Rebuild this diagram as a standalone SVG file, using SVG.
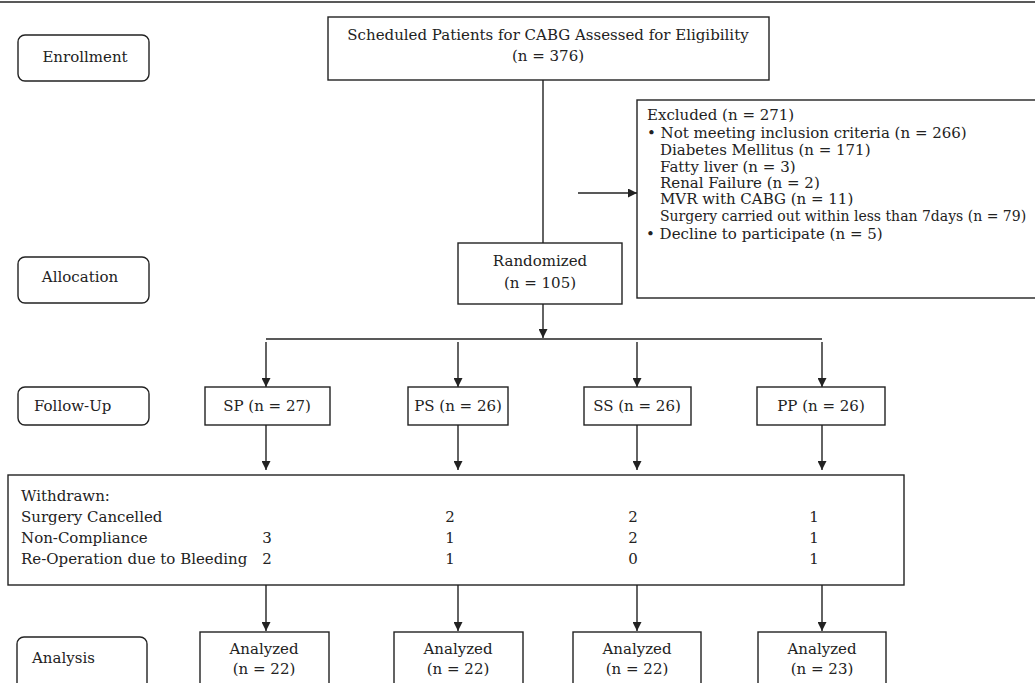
<svg xmlns="http://www.w3.org/2000/svg" width="1035" height="683" viewBox="0 0 1035 683">
<defs>
<marker id="ah" viewBox="0 0 10 10" refX="10" refY="5" markerWidth="9" markerHeight="9" markerUnits="userSpaceOnUse" orient="auto">
<path d="M0,0 L10,5 L0,10 z" fill="#222"/>
</marker>
<style>
.box{fill:#fff;stroke:#222;stroke-width:1.4}
.lbl{fill:#fff;stroke:#222;stroke-width:1.4}
.t{font-family:"DejaVu Serif","Liberation Serif",serif;font-size:15px;fill:#222}
.c{text-anchor:middle}
.ln{stroke:#222;stroke-width:1.4;fill:none}
.ar{stroke:#222;stroke-width:1.4;fill:none;marker-end:url(#ah)}
</style>
</defs>
<rect width="1035" height="683" fill="#fff"/>
<line x1="0" y1="2" x2="1035" y2="2" stroke="#222" stroke-width="1.6"/>

<g id="connectors">
<line class="ln" x1="543" y1="80" x2="543" y2="243"/>
<line class="ar" x1="578" y1="193" x2="637" y2="193"/>
<line class="ar" x1="543" y1="304" x2="543" y2="338"/>
<line class="ln" x1="266" y1="339" x2="822" y2="339"/>
<line class="ar" x1="266" y1="342" x2="266" y2="387"/>
<line class="ar" x1="458" y1="342" x2="458" y2="387"/>
<line class="ar" x1="637" y1="342" x2="637" y2="387"/>
<line class="ar" x1="822" y1="342" x2="822" y2="387"/>
<line class="ar" x1="266" y1="425" x2="266" y2="470"/>
<line class="ar" x1="458" y1="425" x2="458" y2="470"/>
<line class="ar" x1="637" y1="425" x2="637" y2="470"/>
<line class="ar" x1="822" y1="425" x2="822" y2="470"/>
<line class="ar" x1="266" y1="585" x2="266" y2="631"/>
<line class="ar" x1="458" y1="585" x2="458" y2="631"/>
<line class="ar" x1="637" y1="585" x2="637" y2="631"/>
<line class="ar" x1="822" y1="585" x2="822" y2="631"/>
</g>

<g id="enrollment">
<rect class="lbl" x="18" y="35" width="131" height="46" rx="7"/>
<text class="t c" x="85" y="62">Enrollment</text>
</g>
<g id="allocation">
<rect class="lbl" x="18" y="257" width="131" height="46" rx="7"/>
<text class="t c" x="80" y="282">Allocation</text>
</g>
<g id="followup">
<rect class="lbl" x="18" y="387" width="131" height="38" rx="7"/>
<text class="t" x="34" y="411">Follow-Up</text>
</g>
<g id="analysis">
<rect class="lbl" x="17" y="637" width="130" height="56" rx="7"/>
<text class="t" x="32" y="663">Analysis</text>
</g>

<g id="assessed">
<rect class="box" x="328" y="17" width="441" height="63"/>
<text class="t c" x="548" y="40">Scheduled Patients for CABG Assessed for Eligibility</text>
<text class="t c" x="548" y="61">(n = 376)</text>
</g>

<g id="excluded">
<rect class="box" x="637" y="100" width="410" height="198"/>
<text class="t" x="647" y="120">Excluded (n = 271)</text>
<text class="t" x="647" y="138">• Not meeting inclusion criteria (n = 266)</text>
<text class="t" x="660" y="155">Diabetes Mellitus (n = 171)</text>
<text class="t" x="660" y="172">Fatty liver (n = 3)</text>
<text class="t" x="660" y="188">Renal Failure (n = 2)</text>
<text class="t" x="660" y="204">MVR with CABG (n = 11)</text>
<text class="t" x="660" y="221" style="font-size:14px">Surgery carried out within less than 7days (n = 79)</text>
<text class="t" x="646" y="239">•  Decline to participate (n = 5)</text>
</g>

<g id="randomized">
<rect class="box" x="458" y="243" width="164" height="61"/>
<text class="t c" x="540" y="266">Randomized</text>
<text class="t c" x="540" y="288">(n = 105)</text>
</g>

<g id="sp">
<rect class="box" x="205" y="387" width="125" height="38"/>
<text class="t c" x="267" y="411">SP (n = 27)</text>
</g>
<g id="ps">
<rect class="box" x="408" y="387" width="100" height="38"/>
<text class="t c" x="458" y="411">PS (n = 26)</text>
</g>
<g id="ss">
<rect class="box" x="584" y="387" width="107" height="38"/>
<text class="t c" x="637" y="411">SS (n = 26)</text>
</g>
<g id="pp">
<rect class="box" x="757" y="387" width="128" height="38"/>
<text class="t c" x="821" y="411">PP (n = 26)</text>
</g>

<g id="withdrawn">
<rect class="box" x="8" y="475" width="896" height="110"/>
<text class="t" x="21" y="501">Withdrawn:</text>
<text class="t" x="21" y="522">Surgery Cancelled</text>
<text class="t" x="21" y="543">Non-Compliance</text>
<text class="t" x="21" y="564">Re-Operation due to Bleeding</text>
<text class="t c" x="267" y="543">3</text>
<text class="t c" x="267" y="564">2</text>
<text class="t c" x="450" y="522">2</text>
<text class="t c" x="450" y="543">1</text>
<text class="t c" x="450" y="564">1</text>
<text class="t c" x="633" y="522">2</text>
<text class="t c" x="633" y="543">2</text>
<text class="t c" x="633" y="564">0</text>
<text class="t c" x="814" y="522">1</text>
<text class="t c" x="814" y="543">1</text>
<text class="t c" x="814" y="564">1</text>
</g>

<g id="an1">
<rect class="box" x="200" y="632" width="129" height="60"/>
<text class="t c" x="264" y="654">Analyzed</text>
<text class="t c" x="264" y="674">(n = 22)</text>
</g>
<g id="an2">
<rect class="box" x="394" y="632" width="129" height="60"/>
<text class="t c" x="458" y="654">Analyzed</text>
<text class="t c" x="458" y="674">(n = 22)</text>
</g>
<g id="an3">
<rect class="box" x="573" y="632" width="128" height="60"/>
<text class="t c" x="637" y="654">Analyzed</text>
<text class="t c" x="637" y="674">(n = 22)</text>
</g>
<g id="an4">
<rect class="box" x="758" y="632" width="128" height="60"/>
<text class="t c" x="822" y="654">Analyzed</text>
<text class="t c" x="822" y="674">(n = 23)</text>
</g>
</svg>
